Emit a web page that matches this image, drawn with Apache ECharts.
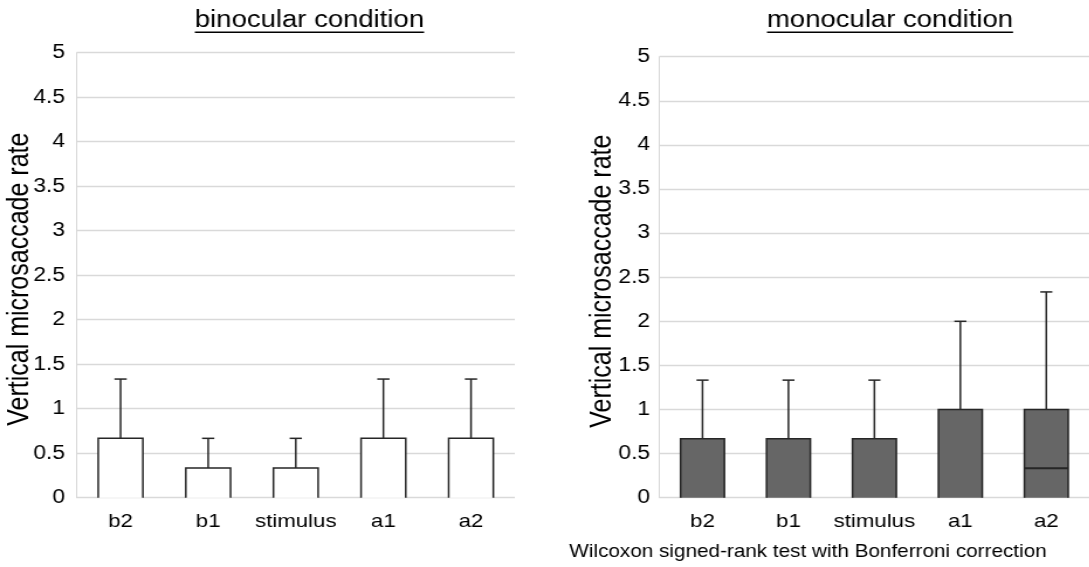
<!DOCTYPE html>
<html>
<head>
<meta charset="utf-8">
<script src="https://cdn.jsdelivr.net/npm/echarts@6/dist/echarts.min.js"></script>
<style>
html,body{margin:0;padding:0;background:#fff;overflow:hidden;width:1089px;height:567px;}
#main{width:930.77px;height:567px;transform:scaleX(1.17);transform-origin:0 0;}
</style>
</head>
<body>
<div id="main"></div>
<script>
// ---- data ----
const categories = ['b2', 'b1', 'stimulus', 'a1', 'a2'];
const binMin    = [0, 0, 0, 0, 0];
const binQ1     = [0, 0, 0, 0, 0];
const binMedian = [0, 0, 0, 0, 0];
const binQ3     = [0.667, 0.333, 0.333, 0.667, 0.667];
const binMax    = [1.333, 0.667, 0.667, 1.333, 1.333];
const monMin    = [0, 0, 0, 0, 0];
const monQ1     = [0, 0, 0, 0, 0];
const monMedian = [0, 0, 0, 0, 0.333];
const monQ3     = [0.667, 0.667, 0.667, 1, 1];
const monMax    = [1.333, 1.333, 1.333, 2, 2.333];
const yMin = 0, yMax = 5, yStep = 0.5;
const titleLeft = 'binocular condition';
const titleRight = 'monocular condition';
const yName = 'Vertical microsaccade rate';
const footnote = 'Wilcoxon signed-rank test with Bonferroni correction';

const FONT = '"Liberation Sans", Arial, sans-serif';
const GRID = '#d9d9d9';
const EDGE = '#262626';

function rows(mn, q1, md, q3, mx) {
  return categories.map((c, i) => [i, mn[i], q1[i], md[i], q3[i], mx[i]]);
}

function makeRender(fill) {
  return function (params, api) {
    const x = api.value(0);
    const pMin = api.coord([x, api.value(1)]);
    const pQ1 = api.coord([x, api.value(2)]);
    const pMed = api.coord([x, api.value(3)]);
    const pQ3 = api.coord([x, api.value(4)]);
    const pMax = api.coord([x, api.value(5)]);
    const band = api.size([1, 0])[0];
    const bw = band * 0.51;
    const cw = band * 0.14;
    const cx = pQ1[0];
    const l = cx - bw / 2, r = cx + bw / 2;
    const ls = { stroke: EDGE, lineWidth: 1.5 };
    const ch = [];
    ch.push({ type: 'line', shape: { x1: cx, y1: pQ3[1], x2: cx, y2: pMax[1] }, style: ls });
    ch.push({ type: 'line', shape: { x1: cx - cw / 2, y1: pMax[1], x2: cx + cw / 2, y2: pMax[1] }, style: ls });
    if (api.value(1) < api.value(2)) {
      ch.push({ type: 'line', shape: { x1: cx, y1: pQ1[1], x2: cx, y2: pMin[1] }, style: ls });
      ch.push({ type: 'line', shape: { x1: cx - cw / 2, y1: pMin[1], x2: cx + cw / 2, y2: pMin[1] }, style: ls });
    }
    ch.push({ type: 'rect', shape: { x: l, y: pQ3[1], width: bw, height: pQ1[1] - pQ3[1] }, style: { fill: fill } });
    ch.push({ type: 'polyline', shape: { points: [[l, pQ1[1]], [l, pQ3[1]], [r, pQ3[1]], [r, pQ1[1]]] }, style: Object.assign({ fill: null }, ls) });
    if (api.value(2) > yMin) {
      ch.push({ type: 'line', shape: { x1: l, y1: pQ1[1], x2: r, y2: pQ1[1] }, style: ls });
    }
    if (api.value(3) > api.value(2)) {
      ch.push({ type: 'line', shape: { x1: l, y1: pMed[1], x2: r, y2: pMed[1] }, style: Object.assign({}, ls, { lineWidth: 2 }) });
    }
    return { type: 'group', children: ch };
  };
}

function xAxis(gi) {
  return {
    type: 'category', gridIndex: gi, data: categories, boundaryGap: true,
    axisLine: { show: false }, axisTick: { show: false },
    axisLabel: { color: '#000', fontSize: 19, fontFamily: FONT, margin: 15, interval: 0 }
  };
}
function yAxis(gi, margin, gap) {
  return {
    type: 'value', gridIndex: gi, min: yMin, max: yMax, interval: yStep,
    name: yName, nameLocation: 'middle', nameGap: gap, nameRotate: 90,
    nameMoveOverlap: false,
    nameTextStyle: { color: '#000', fontSize: 25, fontFamily: FONT, padding: [0, 8, 0, 0] },
    axisLine: { show: true, lineStyle: { color: GRID, width: 1 } },
    axisTick: { show: false },
    splitLine: { show: true, lineStyle: { color: GRID, width: 1.3 } },
    axisLabel: { color: '#000', fontSize: 19.5, fontFamily: FONT, margin: margin }
  };
}

const ctx = document.createElement('canvas').getContext('2d');
ctx.font = '23.5px ' + FONT;
const wl = ctx.measureText(titleLeft).width;
const wr = ctx.measureText(titleRight).width;
const tlx = 264.5, trx = 760.7;

const chart = echarts.init(document.getElementById('main'), null, { renderer: 'canvas' });
chart.setOption({
  backgroundColor: '#fff',
  animation: false,
  grid: [
    { left: 65.6, width: 374.4, top: 52.7, height: 445 },
    { left: 563.7, width: 373.9, top: 56.7, height: 441 }
  ],
  xAxis: [xAxis(0), xAxis(1)],
  yAxis: [yAxis(0, 10, 36), yAxis(1, 8, 36)],
  graphic: [
    { type: 'text', x: tlx, y: 20.9, style: { text: titleLeft, fontSize: 23.5, fontFamily: FONT, fill: '#000', align: 'center', verticalAlign: 'middle' } },
    { type: 'line', shape: { x1: tlx - wl / 2, y1: 32.3, x2: tlx + wl / 2, y2: 32.3 }, style: { stroke: '#000', lineWidth: 1.5 } },
    { type: 'text', x: trx, y: 20.9, style: { text: titleRight, fontSize: 23.5, fontFamily: FONT, fill: '#000', align: 'center', verticalAlign: 'middle' } },
    { type: 'line', shape: { x1: trx - wr / 2, y1: 32.3, x2: trx + wr / 2, y2: 32.3 }, style: { stroke: '#000', lineWidth: 1.5 } },
    { type: 'text', x: 690.6, y: 552.5, style: { text: footnote, fontSize: 17.7, fontFamily: FONT, fill: '#000', align: 'center', verticalAlign: 'middle' } }
  ],
  series: [
    { type: 'custom', xAxisIndex: 0, yAxisIndex: 0, renderItem: makeRender('#ffffff'),
      encode: { x: 0, y: [1, 2, 3, 4, 5] }, data: rows(binMin, binQ1, binMedian, binQ3, binMax) },
    { type: 'custom', xAxisIndex: 1, yAxisIndex: 1, renderItem: makeRender('#666666'),
      encode: { x: 0, y: [1, 2, 3, 4, 5] }, data: rows(monMin, monQ1, monMedian, monQ3, monMax) }
  ]
});
</script>
</body>
</html>
